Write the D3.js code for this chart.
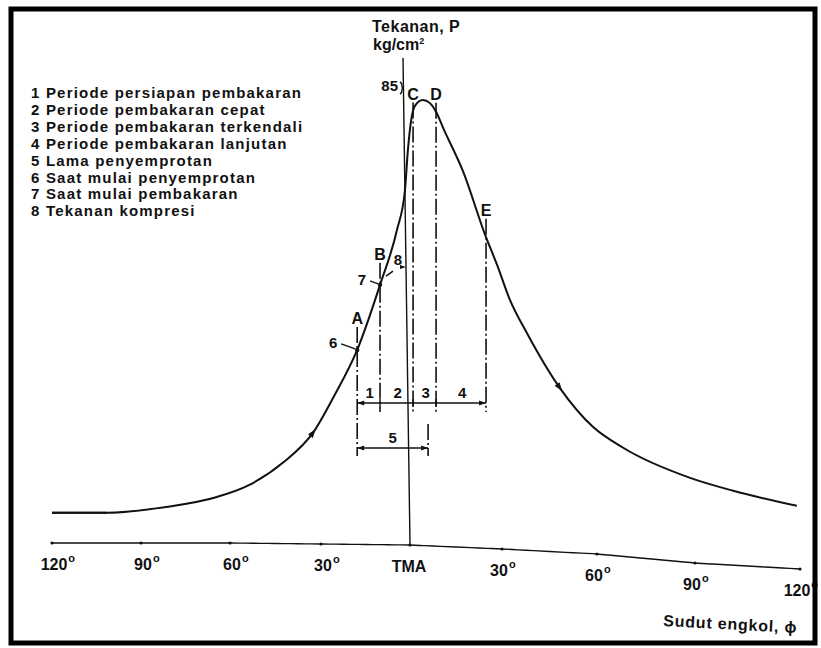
<!DOCTYPE html>
<html lang="id">
<head>
<meta charset="UTF-8">
<title>Diagram tekanan pembakaran</title>
<script src="https://d3js.org/d3.v7.min.js"></script>
<style>
  html, body { margin: 0; padding: 0; background: #fff; }
  svg { display: block; }
  text { font-family: "Liberation Sans", Arial, sans-serif; font-weight: bold; fill: #111; }
  .curve { fill: none; stroke: #111; stroke-width: 2; }
  .dashdot { fill: none; stroke: #111; stroke-width: 1.6; stroke-dasharray: 16 3 2 3; }
  .thin { fill: none; stroke: #111; stroke-width: 1.4; }
</style>
</head>
<body>
<svg id="chart" width="821" height="648"></svg>
<script>
// crank angle (deg, negative = before TMA) and cylinder pressure (kg/cm2)
const crankDeg = [-120, -101.6, -81.5, -64.7, -53.6, -42.6, -32.5, -25.8, -17.8, -10.1,
  -4.4, -1.7, -0.7, 0.3, 1.6, 4.2, 6.5, 8.5, 10.8, 17.3, 24.5, 28.4, 32.5, 37.9,
  48.3, 58.7, 68, 88.5, 100.9, 119.1];
const pressure = [5.8, 5.8, 6.9, 8.7, 11.0, 15.1, 20.8, 27.3, 36.1, 48.2,
  58.4, 65.8, 73.3, 78.5, 81.5, 82.6, 82.0, 80.4, 77.4, 69.3, 57.5, 51.9, 45.4, 39.2,
  29.0, 21.8, 17.9, 12.3, 9.9, 7.1];

const tickDeg = [-120, -90, -60, -30, 0, 30, 60, 90, 120];
const tickLabels = ["120", "90", "60", "30", "TMA", "30", "60", "90", "120"];

const legendItems = [
  "1 Periode persiapan pembakaran",
  "2 Periode pembakaran cepat",
  "3 Periode pembakaran terkendali",
  "4 Periode pembakaran lanjutan",
  "5 Lama penyemprotan",
  "6 Saat mulai penyemprotan",
  "7 Saat mulai pembakaran",
  "8 Tekanan kompresi"
];

// combustion events along crank angle
const eventNames = ["A", "B", "C", "D", "E"];
const eventDeg = [-17.8, -10.1, 1.0, 8.5, 24.8];
const eventP = [36.1, 48.2, 81.0, 80.6, 57.5];
const periodNames = ["1", "2", "3", "4"];
const injectionEndDeg = 5.9;
const compressionP = 51.5;   // point 8
const peakTick = 85;

const svg = d3.select("#chart");

const x = d3.scaleLinear().domain(tickDeg).range([52, 141, 230, 321, 410, 502, 597, 695, 800]);
const y = d3.scaleLinear().domain([0, 85]).range([544, 87]);
// the printed baseline sags on the right side
const sag = d3.scaleLinear().domain(tickDeg).range([-1, -1, -1, 0, 1, 5, 10, 19, 25]);

// ---- crank angle axis ----
const axisPts = d3.range(-120, 121, 5).map(d => [x(d), y(0) + sag(d)]);
svg.append("path").attr("class", "thin").attr("stroke-width", 2)
  .attr("d", d3.line().curve(d3.curveCatmullRom)(axisPts));
svg.selectAll(".tdot").data(tickDeg).join("circle")
  .attr("cx", d => x(d)).attr("cy", d => y(0) + sag(d)).attr("r", 1.6).attr("fill", "#111");

tickDeg.forEach((d, i) => {
  const bx = d === 0 ? x(d) - 1 : (d < 0 ? x(d) + 2 : x(d) - 3);
  const by = y(0) + sag(d) + 27;
  const t = svg.append("text").attr("x", bx).attr("y", by)
    .attr("text-anchor", "middle").attr("font-size", 16).text(tickLabels[i]);
  if (d !== 0) {
    const w = t.node().getComputedTextLength();
    svg.append("text").attr("x", bx + w / 2 + 1).attr("y", by - 8)
      .attr("font-size", 11).text("o");
  }
});

svg.append("text").attr("x", 663).attr("y", 626).attr("font-size", 16)
  .attr("letter-spacing", 0.8)
  .attr("transform", "rotate(3 663 626)")
  .text("Sudut engkol, \u03d5");

// ---- pressure axis ----
svg.append("line").attr("class", "thin").attr("stroke-width", 2)
  .attr("x1", x(0) - 7).attr("y1", 58).attr("x2", x(0)).attr("y2", y(0) + sag(0));
svg.append("path").attr("class", "thin")
  .attr("d", `M${x(0) - 10},${y(peakTick) - 5} q2,1 2,4 q0,2 2,2 q-2,0 -2,2 q0,3 -2,4`);
svg.append("text").attr("x", x(0) - 12).attr("y", y(peakTick) + 4)
  .attr("text-anchor", "end").attr("font-size", 15).text(peakTick);
svg.append("text").attr("x", 372).attr("y", 32).attr("font-size", 16)
  .attr("letter-spacing", 0.5).text("Tekanan, P");
const kg = svg.append("text").attr("x", 373).attr("y", 50).attr("font-size", 16);
kg.append("tspan").text("kg/cm");
kg.append("tspan").attr("font-size", 9).attr("dy", -6).text("2");

// ---- legend ----
svg.selectAll(".leg").data(legendItems).join("text")
  .attr("class", "leg")
  .attr("x", 31).attr("y", (d, i) => 98 + i * 16.9)
  .attr("font-size", 15)
  .attr("letter-spacing", 1.2)
  .text(d => d);

// ---- event marker lines (dash-dot) ----
const labelOffset = [32, 31, 15, 17, 25];
eventDeg.forEach((d, i) => {
  const ly = y(eventP[i]) - labelOffset[i];
  svg.append("text").attr("x", x(d)).attr("y", ly + 6)
    .attr("text-anchor", "middle").attr("font-size", 16).text(eventNames[i]);
  const bottom = i === 0 ? 456 : 412;
  svg.append("line").attr("class", "dashdot")
    .attr("x1", x(d)).attr("x2", x(d)).attr("y1", ly + 9).attr("y2", bottom);
});
svg.append("line").attr("class", "dashdot")
  .attr("x1", x(injectionEndDeg)).attr("x2", x(injectionEndDeg))
  .attr("y1", 424).attr("y2", 456);

// dimension lines
function arrowHead(px, py, dir) {
  svg.append("path").attr("fill", "#111")
    .attr("d", `M${px},${py} l${-7 * dir},-2.5 l0,5 z`);
}
const dimY = 403;
svg.append("line").attr("class", "thin")
  .attr("x1", x(eventDeg[0])).attr("x2", x(eventDeg[4])).attr("y1", dimY).attr("y2", dimY);
arrowHead(x(eventDeg[0]), dimY, -1);
arrowHead(x(eventDeg[4]), dimY, 1);
[1, 2, 3].forEach(i => {
  svg.append("line").attr("class", "thin")
    .attr("x1", x(eventDeg[i])).attr("x2", x(eventDeg[i])).attr("y1", dimY - 4).attr("y2", dimY + 4);
});
periodNames.forEach((p, i) => {
  svg.append("text").attr("x", (x(eventDeg[i]) + x(eventDeg[i + 1])) / 2 + 1)
    .attr("y", dimY - 5).attr("text-anchor", "middle").attr("font-size", 15).text(p);
});
const dim5Y = 448;
svg.append("line").attr("class", "thin")
  .attr("x1", x(eventDeg[0])).attr("x2", x(injectionEndDeg)).attr("y1", dim5Y).attr("y2", dim5Y);
arrowHead(x(eventDeg[0]), dim5Y, -1);
arrowHead(x(injectionEndDeg), dim5Y, 1);
svg.append("text").attr("x", (x(eventDeg[0]) + x(injectionEndDeg)) / 2)
  .attr("y", dim5Y - 5).attr("text-anchor", "middle").attr("font-size", 15).text("5");

// ---- pressure curve ----
const pts = crankDeg.map((d, i) => [x(d), y(pressure[i])]);
const line = d3.line().curve(d3.curveMonotoneX);
svg.append("path").attr("class", "curve").attr("d", line(pts));
svg.append("path").attr("class", "curve").attr("stroke-width", 3.5)
  .attr("d", d3.line()(pts.slice(0, 2)));

// direction arrows on the curve
[6, 24].forEach(i => {
  const [x0, y0] = pts[i - 1], [x1, y1] = pts[i + 1];
  const a = Math.atan2(y1 - y0, x1 - x0) * 180 / Math.PI;
  svg.append("path").attr("fill", "#111").attr("d", "M4,0 L-5,-3 L-5,3 Z")
    .attr("transform", `translate(${pts[i][0]},${pts[i][1]}) rotate(${a})`);
});

// points 6 and 7
[[0, "6", -24, -4], [1, "7", -18, -2]].forEach(([i, lab, dx, dy]) => {
  const px = x(eventDeg[i]), py = y(eventP[i]);
  svg.append("circle").attr("cx", px).attr("cy", py).attr("r", 2.2).attr("fill", "#111");
  svg.append("line").attr("class", "thin").attr("stroke-width", 1)
    .attr("x1", px + dx + 8).attr("y1", py + dy - 2).attr("x2", px - 2).attr("y2", py - 1);
  svg.append("text").attr("x", px + dx).attr("y", py + dy + 2)
    .attr("text-anchor", "middle").attr("font-size", 15).text(lab);
});

// point 8 (compression pressure)
const p8y = y(compressionP);
svg.append("text").attr("x", 398).attr("y", p8y - 2)
  .attr("text-anchor", "middle").attr("font-size", 15).text("8");
svg.append("line").attr("class", "thin").attr("stroke-width", 1.2)
  .attr("x1", 386).attr("y1", p8y + 9).attr("x2", 393).attr("y2", p8y + 4);
svg.append("path").attr("fill", "#111")
  .attr("d", `M${x(0) - 4},${p8y} l-6,-2 l0,4 z`);

// ---- frame ----
svg.append("rect").attr("x", 11).attr("y", 9).attr("width", 804).attr("height", 634)
  .attr("fill", "none").attr("stroke", "#000").attr("stroke-width", 5);
</script>
</body>
</html>
